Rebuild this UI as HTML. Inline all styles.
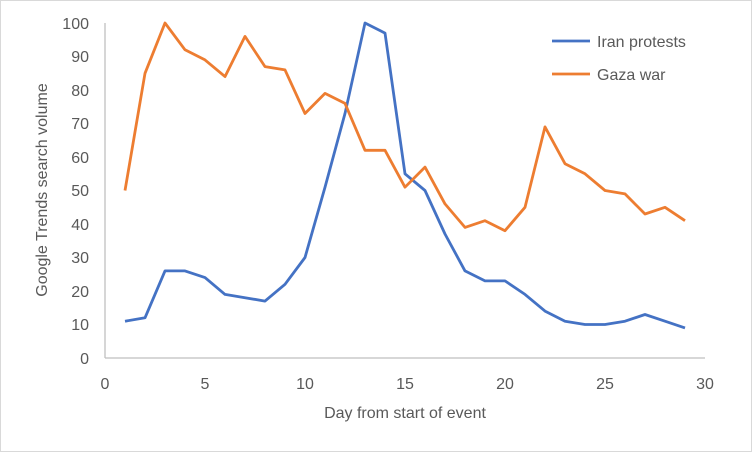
<!DOCTYPE html>
<html><head><style>
html,body{margin:0;padding:0;background:#fff}
svg{display:block}
text{font-family:"Liberation Sans",sans-serif;fill:#595959}
</style></head><body>
<svg width="752" height="452" xmlns="http://www.w3.org/2000/svg">
<rect x="0.5" y="0.5" width="751" height="451" fill="#fff" stroke="#d9d9d9"/>
<line x1="105" y1="23" x2="105" y2="358" stroke="#bfbfbf" stroke-width="1.3"/>
<line x1="105" y1="358" x2="705" y2="358" stroke="#bfbfbf" stroke-width="1.3"/>
<g font-size="16" text-anchor="end">
<text x="89" y="364">0</text><text x="89" y="330">10</text><text x="89" y="297">20</text>
<text x="89" y="263">30</text><text x="89" y="230">40</text><text x="89" y="196">50</text>
<text x="89" y="163">60</text><text x="89" y="129">70</text><text x="89" y="96">80</text>
<text x="89" y="62">90</text><text x="89" y="29">100</text>
</g>
<g font-size="16" text-anchor="middle">
<text x="105" y="389">0</text><text x="205" y="389">5</text><text x="305" y="389">10</text>
<text x="405" y="389">15</text><text x="505" y="389">20</text><text x="605" y="389">25</text><text x="705" y="389">30</text>
<text x="405" y="418">Day from start of event</text>
<text transform="translate(47,190) rotate(-90)">Google Trends search volume</text>
</g>
<polyline fill="none" stroke="#4472c4" stroke-width="2.8" stroke-linejoin="round" points="125,321.2 145,317.8 165,270.9 185,270.9 205,277.6 225,294.4 245,297.7 265,301.1 285,284.3 305,257.5 325,187.2 345,113.5 365,23 385,33.1 405,173.8 425,190.5 445,234 465,270.9 485,280.9 505,280.9 525,294.4 545,311.1 565,321.2 585,324.5 605,324.5 625,321.2 645,314.5 665,321.2 685,327.9"/>
<polyline fill="none" stroke="#ed7d31" stroke-width="2.8" stroke-linejoin="round" points="125,190.5 145,73.3 165,23 185,49.8 205,59.9 225,76.6 245,36.4 265,66.6 285,69.9 305,113.5 325,93.4 345,103.4 365,150.3 385,150.3 405,187.2 425,167.1 445,203.9 465,227.4 485,220.7 505,230.7 525,207.3 545,126.9 565,163.7 585,173.8 605,190.5 625,193.9 645,214 665,207.3 685,220.7"/>
<line x1="552" y1="41" x2="590" y2="41" stroke="#4472c4" stroke-width="2.8"/>
<line x1="552" y1="74" x2="590" y2="74" stroke="#ed7d31" stroke-width="2.8"/>
<text x="597" y="47" font-size="16">Iran protests</text>
<text x="597" y="80" font-size="16">Gaza war</text>
</svg>
</body></html>
